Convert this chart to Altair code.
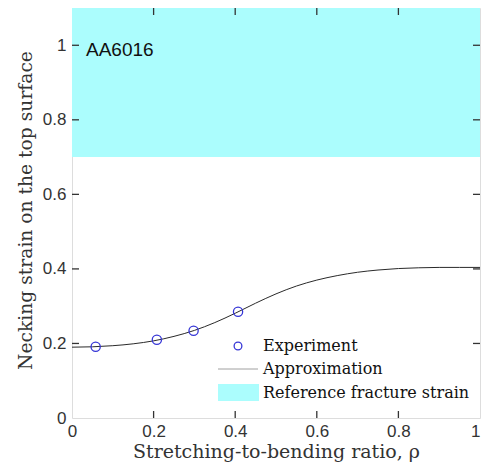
import altair as alt
import pandas as pd

# ---- data ----
exp_x = [0.058, 0.208, 0.298, 0.407]
exp_y = [0.191, 0.210, 0.234, 0.285]

approx_x = [0.0, 0.05, 0.1, 0.15, 0.2, 0.25, 0.3, 0.35, 0.4, 0.45, 0.5,
            0.55, 0.6, 0.65, 0.7, 0.75, 0.8, 0.85, 0.9, 0.95, 1.0]
approx_y = [0.190, 0.191, 0.194, 0.199, 0.207, 0.219, 0.235, 0.256, 0.281, 0.308, 0.333,
            0.354, 0.370, 0.382, 0.391, 0.397, 0.401, 0.403, 0.404, 0.404, 0.404]

band_x = [0.0, 1.0]
band_y = [0.7, 1.1]

x_ticks = [0, 0.2, 0.4, 0.6, 0.8, 1]
y_ticks = [0, 0.2, 0.4, 0.6, 0.8, 1]
inner_x_ticks = [0.2, 0.4, 0.6, 0.8]
inner_y_ticks = [0.2, 0.4, 0.6, 0.8, 1.0]

legend_labels = ["Experiment", "Approximation", "Reference fracture strain"]

W, H = 408, 410
CYAN = "#abfdfd"
BLUE = "#3636d6"
FRAME = "#333333"
SERIF = "DejaVu Serif"
SANS = "Liberation Sans"

xs = alt.Scale(domain=[0, 1], nice=False, zero=False)
ys = alt.Scale(domain=[0, 1.1], nice=False, zero=False)

x_axis = alt.Axis(values=x_ticks, format="~g", title="Stretching-to-bending ratio, ρ",
                  tickSize=0, domain=False, grid=False, labelPadding=5, labelFlush=False,
                  labelAlign={"expr": "datum.value == 1 ? 'right' : 'center'"},
                  labelFont=SANS, labelFontSize=17, labelColor=FRAME,
                  titleFont=SERIF, titleFontSize=19, titleFontWeight="normal",
                  titleColor=FRAME, titlePadding=3)
y_axis = alt.Axis(values=y_ticks, format="~g", title="Necking strain on the top surface",
                  tickSize=0, domain=False, grid=False, labelPadding=6,
                  labelFont=SANS, labelFontSize=17, labelColor=FRAME,
                  titleFont=SERIF, titleFontSize=18.7, titleFontWeight="normal",
                  titleColor=FRAME, titleY=202, titleX=-47, titleBaseline="middle",
                  titleAlign="center")

band_df = pd.DataFrame({"x": [band_x[0]], "x2": [band_x[1]], "y": [band_y[0]], "y2": [band_y[1]]})
band = alt.Chart(band_df).mark_rect(color=CYAN).encode(
    x=alt.X("x:Q", scale=xs, axis=x_axis), x2="x2",
    y=alt.Y("y:Q", scale=ys, axis=y_axis), y2="y2")

approx_df = pd.DataFrame({"x": approx_x, "y": approx_y})
line = alt.Chart(approx_df).mark_line(color="#2a2a2a", strokeWidth=1, interpolate="monotone").encode(
    x=alt.X("x:Q", scale=xs), y=alt.Y("y:Q", scale=ys))

exp_df = pd.DataFrame({"x": exp_x, "y": exp_y})
pts = alt.Chart(exp_df).mark_point(shape="circle", filled=False, color=BLUE, size=85,
                                   strokeWidth=1.3, opacity=1).encode(
    x=alt.X("x:Q", scale=xs), y=alt.Y("y:Q", scale=ys))

# inward ticks
xt = pd.DataFrame({"v": inner_x_ticks})
yt = pd.DataFrame({"v": inner_y_ticks})
tick_b = alt.Chart(xt).mark_rule(color=FRAME, strokeWidth=1.3).encode(
    x=alt.X("v:Q", scale=xs), y=alt.value(H), y2=alt.value(H - 7))
tick_t = alt.Chart(xt).mark_rule(color=FRAME, strokeWidth=1.3).encode(
    x=alt.X("v:Q", scale=xs), y=alt.value(0), y2=alt.value(7))
tick_l = alt.Chart(yt).mark_rule(color=FRAME, strokeWidth=1.3).encode(
    y=alt.Y("v:Q", scale=ys), x=alt.value(0), x2=alt.value(7))
tick_r = alt.Chart(yt).mark_rule(color=FRAME, strokeWidth=1.3).encode(
    y=alt.Y("v:Q", scale=ys), x=alt.value(W), x2=alt.value(W - 7))

# material label
mat = alt.Chart(pd.DataFrame({"t": ["AA6016"]})).mark_text(
    font=SANS, fontSize=19, color="#111111", align="left", baseline="alphabetic").encode(
    text="t:N", x=alt.value(14), y=alt.value(48))

# legend
leg_pt = alt.Chart(pd.DataFrame({"a": [0]})).mark_point(
    shape="circle", filled=False, color=BLUE, size=60, strokeWidth=1.3, opacity=1).encode(
    x=alt.value(166), y=alt.value(338))
leg_line = alt.Chart(pd.DataFrame({"a": [0]})).mark_rule(color="#a0a0a0", strokeWidth=1).encode(
    x=alt.value(146), x2=alt.value(186), y=alt.value(361))
leg_box = alt.Chart(pd.DataFrame({"a": [0]})).mark_rect(color=CYAN).encode(
    x=alt.value(146), x2=alt.value(187), y=alt.value(376), y2=alt.value(393))
leg_txt = alt.Chart(pd.DataFrame({"t": legend_labels, "yy": [338, 361, 385]})).mark_text(
    font=SERIF, fontSize=16, color="#111111", align="left", baseline="middle").encode(
    text="t:N", x=alt.value(191), y=alt.Y("yy:Q", scale=None))

chart = alt.layer(band, line, pts, tick_b, tick_t, tick_l, tick_r, mat,
                  leg_line, leg_box, leg_pt, leg_txt).properties(
    width=W, height=H,
    autosize=alt.AutoSizeParams(type="none"),
    padding={"left": 64, "top": 0, "right": 1, "bottom": 45},
).configure_view(stroke=FRAME, strokeWidth=1.5).configure(background="white")

chart.save("out.html", embed_options={"renderer": "svg", "actions": False})
